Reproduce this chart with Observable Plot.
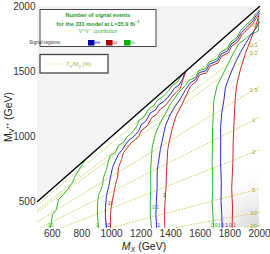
<!DOCTYPE html>
<html><head><meta charset="utf-8">
<script src="https://cdn.jsdelivr.net/npm/d3@7"></script>
<script src="https://cdn.jsdelivr.net/npm/@observablehq/plot@0.6"></script>
<style>body{margin:0;background:#fff} svg{display:block}</style>
</head><body><div id="chart"></div>
<script>
// ---- data ----
const xTicks = [600, 800, 1000, 1200, 1400, 1600, 1800, 2000];
const yTicks = [500, 1000, 1500, 2000];
const diagonal = [500, 2000];

// width contours: Gamma_V/M_V (%) labels and slopes M_V/M_X
const widthLabels = ["0.01", "0.1", "0.2", "0.5", "1", "2", "5", "10", "20"];
const widthSlopes = [0.948, 0.870, 0.838, 0.693, 0.574, 0.449, 0.299, 0.209, 0.158];

// signal event contours [M_X, M_V]
const emu10 = [[588,300],[601,400],[628,439],[642,516],[676,554],[703,593],[737,647],[750,685],[777,739],[804,785],[824,823],[845,845]];
const emu1 = [[912,300],[905,392],[905,477],[912,546],[939,623],[946,685],[966,746],[980,815],[993,854],[1027,877],[1047,931],[1081,954],[1101,992],[1128,1021],[1151,1046],[1174,1085],[1185,1123],[1218,1149],[1252,1213],[1286,1238],[1309,1277],[1343,1302],[1365,1328],[1387,1354],[1410,1392],[1444,1418],[1470,1465]];
const ee10 = [[966,300],[959,377],[959,454],[966,546],[980,608],[993,685],[1007,762],[1027,815],[1047,862],[1074,900],[1095,939],[1115,969],[1142,992],[1162,1015],[1185,1045],[1200,1090],[1230,1115],[1262,1180],[1298,1205],[1320,1245],[1355,1270],[1380,1300],[1400,1330],[1425,1370],[1455,1395],[1480,1440],[1495,1493]];
const mumu10 = [[993,300],[993,400],[1000,477],[1014,554],[1027,631],[1041,685],[1047,762],[1068,823],[1081,877],[1108,915],[1135,954],[1162,977],[1185,1005],[1205,1050],[1240,1080],[1272,1145],[1305,1170],[1330,1210],[1365,1240],[1390,1275],[1412,1310],[1440,1345],[1465,1370],[1480,1430],[1503,1500]];
const emu01 = [[1270,300],[1262,400],[1262,500],[1265,600],[1264,739],[1275,918],[1297,1021],[1331,1110],[1365,1175],[1399,1252],[1432,1302],[1455,1341],[1500,1392],[1522,1431],[1568,1456],[1590,1508],[1635,1521],[1658,1572],[1714,1598],[1737,1649],[1782,1675],[1804,1725],[1849,1764],[1872,1815],[1917,1867],[1950,1900],[1975,1945],[2000,1975]];
const ee1 = [[1305,300],[1300,400],[1303,500],[1308,600],[1309,739],[1330,900],[1343,969],[1365,1085],[1399,1175],[1433,1238],[1466,1290],[1500,1360],[1530,1410],[1568,1440],[1594,1492],[1638,1506],[1662,1556],[1716,1582],[1741,1634],[1785,1660],[1808,1710],[1852,1748],[1876,1798],[1920,1850],[1952,1884],[1977,1930],[2000,1962]];
const mumu1 = [[1360,300],[1358,400],[1362,500],[1368,600],[1372,739],[1380,900],[1392,969],[1410,1059],[1433,1149],[1455,1200],[1478,1250],[1510,1330],[1535,1390],[1572,1424],[1598,1476],[1642,1490],[1666,1540],[1720,1566],[1745,1618],[1790,1644],[1812,1694],[1856,1732],[1880,1782],[1924,1834],[1956,1868],[1980,1914],[2000,1946]];
const emu001 = [[1690,300],[1685,400],[1680,500],[1684,600],[1683,700],[1680,800],[1682,900],[1683,1069],[1688,1180],[1691,1277],[1714,1392],[1748,1469],[1793,1572],[1827,1649],[1860,1713],[1905,1752],[1939,1785],[1973,1800],[1992,1812],[1995,1910]];
const ee01 = [[1748,300],[1745,400],[1740,500],[1742,650],[1737,800],[1738,950],[1737,1069],[1745,1180],[1759,1277],[1770,1379],[1804,1482],[1838,1572],[1872,1649],[1905,1713],[1939,1777],[1973,1828],[2000,1880]];
const mumu01 = [[1815,300],[1818,450],[1812,600],[1820,800],[1822,950],[1827,1085],[1835,1277],[1845,1392],[1872,1520],[1905,1640],[1939,1740],[1973,1840],[1995,1930]];

// contour labels
const labelText = ["10", "1", "10", "10", "0.1", "1", "1", "0.01", "0.1", "0.1"];
const labelRegion = ["emu", "emu", "ee", "mumu", "emu", "ee", "mumu", "emu", "ee", "mumu"];
const labelX = [588, 905, 973, 993, 1297, 1318, 1358, 1703, 1764, 1818];
const labelY = [318, 318, 318, 485, 454, 318, 546, 318, 318, 318];

// ---- styles ----
const regionColor = {ee: "#2a2ad0", mumu: "#cc2a2a", emu: "#2eb82e"};
const contours = [
  {pts: emu10, region: "emu"}, {pts: emu1, region: "emu"}, {pts: emu01, region: "emu"}, {pts: emu001, region: "emu"},
  {pts: ee10, region: "ee"}, {pts: ee1, region: "ee"}, {pts: ee01, region: "ee"},
  {pts: mumu10, region: "mumu"}, {pts: mumu1, region: "mumu"}, {pts: mumu01, region: "mumu"}
];
const contourRows = contours.flatMap((c, i) => c.pts.map(([x, y]) => ({x, y, id: i, region: c.region})));
const widthRows = widthSlopes.flatMap((r, i) => {
  const x0 = Math.max(500, 300 / r);
  return [{x: x0, y: r * x0, id: i}, {x: 2000, y: r * 2000, id: i}];
});
const widthLabelRows = widthLabels.map((t, i) => ({t, x: 1960, y: widthSlopes[i] * 1960}));
const labelRows = labelText.map((t, i) => ({t, region: labelRegion[i], x: labelX[i], y: labelY[i]}));
const diagRows = diagonal.map(v => ({x: v, y: v}));

const font = "Liberation Sans, Arial, Helvetica, sans-serif";
const olive = "#d4d46a";

const chart = Plot.plot({
  width: 270, height: 254,
  marginLeft: 37, marginRight: 11, marginTop: 6, marginBottom: 27,
  style: {fontFamily: font, fontSize: "10px", color: "#333", background: "#fff", overflow: "visible"},
  x: {domain: [500, 2000]},
  y: {domain: [300, 2000]},
  marks: [
    Plot.areaY(diagRows, {x: "x", y1: "y", y2: 2000, fill: "#f3f3f3"}),
    Plot.rect([0], {x1: 1550, x2: 2000, y1: 300, y2: 760, fill: "#888888"}),
    Plot.line(widthRows, {x: "x", y: "y", z: "id", stroke: olive, strokeWidth: 1, strokeDasharray: "1,2"}),
    Plot.line(contourRows, {x: "x", y: "y", z: "id", stroke: d => regionColor[d.region], strokeWidth: 1, curve: "linear"}),
    Plot.line(diagRows, {x: "x", y: "y", stroke: "#000", strokeWidth: 1.4}),
    Plot.text(widthLabelRows, {x: "x", y: "y", text: "t", fill: "#a8a838", fontSize: 6}),
    Plot.text(labelRows, {x: "x", y: "y", text: "t", fill: d => regionColor[d.region], fontSize: 5}),
    Plot.axisX({ticks: xTicks, tickSize: 0, tickPadding: 2, label: null, tickFormat: d => String(d), fontSize: 10}),
    Plot.axisY({ticks: yTicks, tickSize: 0, tickPadding: 2, label: null, tickFormat: d => String(d), fontSize: 10})
  ]
});

const svg = d3.select(chart);
// gradient for bottom-right shading
const defs = svg.insert("defs", ":first-child");
const rg = defs.append("radialGradient").attr("id", "shadeGrad")
  .attr("cx", "1").attr("cy", "1").attr("r", "1");
rg.append("stop").attr("offset", "0").attr("stop-color", "#d6d6d6").attr("stop-opacity", 1);
rg.append("stop").attr("offset", "0.5").attr("stop-color", "#ececec").attr("stop-opacity", 0.7);
rg.append("stop").attr("offset", "1").attr("stop-color", "#ffffff").attr("stop-opacity", 0);
svg.selectAll("[fill='#888888']").attr("fill", "url(#shadeGrad)");

// axis titles
const yl = svg.append("text").attr("transform", "translate(12,117) rotate(-90)")
  .attr("text-anchor", "middle").attr("font-size", 10.5).attr("fill", "#222").attr("font-family", font);
yl.append("tspan").text("M");
yl.append("tspan").attr("font-size", 7).attr("dy", 2).text("V");
yl.append("tspan").attr("font-size", 5).attr("dy", -5).text("++");
yl.append("tspan").attr("dy", 3).text(" (GeV)");

const xl = svg.append("text").attr("x", 144).attr("y", 250)
  .attr("text-anchor", "middle").attr("font-size", 10.5).attr("fill", "#222").attr("font-family", font);
xl.append("tspan").attr("font-style", "italic").text("M");
xl.append("tspan").attr("font-style", "italic").attr("font-size", 7).attr("dy", 2).text("X");
xl.append("tspan").attr("dy", -2).text(" (GeV)");

// legend box 1
const lg = svg.append("g").attr("font-family", font);
lg.append("rect").attr("x", 40).attr("y", 9.5).attr("width", 116).attr("height", 37)
  .attr("fill", "#fff").attr("stroke", "#333").attr("stroke-width", 0.9);
const green = "#1f9a1f";
lg.append("text").attr("x", 98).attr("y", 17).attr("text-anchor", "middle").attr("font-size", 5.6)
  .attr("font-weight", "bold").attr("fill", green).text("Number of signal events");
const l2 = lg.append("text").attr("x", 98).attr("y", 25.5).attr("text-anchor", "middle").attr("font-size", 5.6)
  .attr("font-weight", "bold").attr("fill", green);
l2.append("tspan").text("for the 331 model at L=35.9 fb");
l2.append("tspan").attr("font-size", 3.8).attr("dy", -2.2).text("−1");
const l3 = lg.append("text").attr("x", 98).attr("y", 33).attr("text-anchor", "middle").attr("font-size", 4.6)
  .attr("fill", "#2eb82e");
l3.append("tspan").text("V");
l3.append("tspan").attr("font-size", 3.2).attr("dy", -1.8).text("++");
l3.append("tspan").attr("dy", 1.8).text("V");
l3.append("tspan").attr("font-size", 3.2).attr("dy", -1.8).text("−−");
l3.append("tspan").attr("dy", 1.8).text(" contribution");
lg.append("text").attr("x", 45).attr("y", 44.3).attr("font-size", 4.8).attr("fill", "#333").text("Signal regions:");
const sw = [["#0000b0", "ee", "#2a2ad0", 88, 97.5], ["#b00000", "μμ", "#cc2a2a", 106, 114.5], ["#00b000", "eμ", "#2eb82e", 124, 132]];
sw.forEach(([c, t, tc, x, tx]) => {
  lg.append("rect").attr("x", x).attr("y", 40).attr("width", 6.5).attr("height", 5.5).attr("fill", c);
  lg.append("text").attr("x", tx).attr("y", 44.3).attr("font-size", 4.8).attr("fill", tc).text(t);
});

// legend box 2
lg.append("rect").attr("x", 40).attr("y", 54.5).attr("width", 68).attr("height", 18.5)
  .attr("fill", "#fff").attr("stroke", "#444").attr("stroke-width", 1.3);
lg.append("line").attr("x1", 47).attr("x2", 64).attr("y1", 64).attr("y2", 64)
  .attr("stroke", olive).attr("stroke-dasharray", "1,2");
const g2 = lg.append("text").attr("x", 79).attr("y", 66).attr("text-anchor", "middle").attr("font-size", 5.6)
  .attr("fill", "#a8a838");
g2.append("tspan").text("Γ");
g2.append("tspan").attr("font-size", 3.8).attr("dy", 1.5).text("V");
g2.append("tspan").attr("dy", -1.5).text("/M");
g2.append("tspan").attr("font-size", 3.8).attr("dy", 1.5).text("V");
g2.append("tspan").attr("dy", -1.5).text(" (%)");

document.getElementById("chart").appendChild(chart);
</script>
</body></html>
